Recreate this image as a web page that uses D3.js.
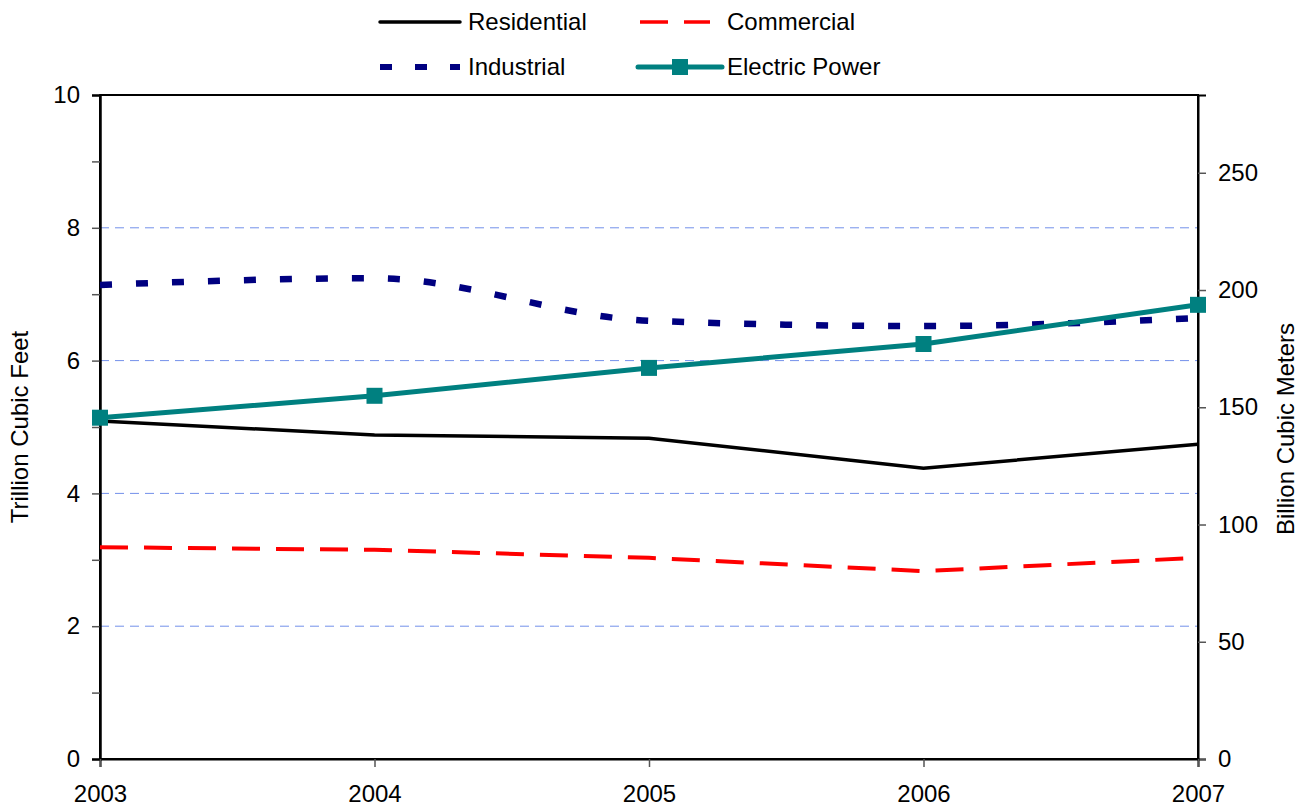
<!DOCTYPE html>
<html>
<head>
<meta charset="utf-8">
<script src="https://cdnjs.cloudflare.com/ajax/libs/d3/7.8.5/d3.min.js"></script>
<style>
  body { margin: 0; background: #fff; }
  text { font-family: "Liberation Sans", Arial, sans-serif; }
</style>
</head>
<body>
<script>
// values, trillion cubic feet
const years = [2003, 2004, 2005, 2006, 2007]
const residential = [5.09, 4.88, 4.83, 4.38, 4.74]
const commercial = [3.19, 3.15, 3.03, 2.83, 3.03]
const industrial = [7.14, 7.24, 6.60, 6.52, 6.64]
const electricPower = [5.14, 5.47, 5.89, 6.25, 6.84]
const leftTicks = [0, 2, 4, 6, 8, 10]
const leftMinor = [1, 3, 5, 7, 9]
const rightTicks = [0, 50, 100, 150, 200, 250]
const bcmPerTcf = 28.317

const width = 1304, height = 806
const m = { left: 100, right: 1198, top: 95, bottom: 759 }
const fontSize = "24px"

const svg = d3.select("body").append("svg")
    .attr("width", width)
    .attr("height", height)

const x = d3.scaleLinear().domain([2003, 2007]).range([m.left, m.right])
const y = d3.scaleLinear().domain([0, 10]).range([m.bottom, m.top])
const y2 = d3.scaleLinear().domain([0, 10 * bcmPerTcf]).range([m.bottom, m.top])

// gridlines
svg.append("g").selectAll("line")
    .data([2, 4, 6, 8])
    .join("line")
    .attr("x1", m.left).attr("x2", m.right)
    .attr("y1", d => y(d)).attr("y2", d => y(d))
    .attr("stroke", "#7390ea")
    .attr("stroke-width", 1)
    .attr("stroke-dasharray", "9,6")

// frame
svg.append("rect")
    .attr("x", m.left).attr("y", m.top)
    .attr("width", m.right - m.left).attr("height", m.bottom - m.top)
    .attr("fill", "none").attr("stroke", "#000").attr("stroke-width", 2)

const styleAxis = g => {
  g.select(".domain").attr("stroke", "#000").attr("stroke-width", 2)
  g.selectAll(".tick line").attr("stroke", "#555").attr("stroke-width", 1.5)
  g.selectAll("text").attr("font-size", fontSize).attr("fill", "#000")
}

// left axis
svg.append("g")
    .attr("transform", `translate(${m.left},0)`)
    .call(d3.axisLeft(y).tickValues(leftTicks).tickSize(8).tickPadding(12).tickFormat(d3.format("d")))
    .call(styleAxis)
svg.append("g")
    .attr("transform", `translate(${m.left},0)`)
    .call(d3.axisLeft(y).tickValues(leftMinor).tickSize(8).tickFormat(""))
    .call(styleAxis)

// right axis
svg.append("g")
    .attr("transform", `translate(${m.right},0)`)
    .call(d3.axisRight(y2).tickValues(rightTicks).tickSize(8).tickPadding(12).tickFormat(d3.format("d")))
    .call(styleAxis)

// bottom axis
svg.append("g")
    .attr("transform", `translate(0,${m.bottom})`)
    .call(d3.axisBottom(x).tickValues(years).tickSize(8).tickPadding(18).tickFormat(d3.format("d")))
    .call(styleAxis)

// axis titles
svg.append("text")
    .attr("transform", `translate(28,${(m.top + m.bottom) / 2}) rotate(-90)`)
    .attr("text-anchor", "middle")
    .attr("font-size", fontSize)
    .text("Trillion Cubic Feet")
svg.append("text")
    .attr("transform", `translate(1294,${(m.top + m.bottom) / 2 + 2}) rotate(-90)`)
    .attr("text-anchor", "middle")
    .attr("font-size", fontSize)
    .text("Billion Cubic Meters")

const series = [
  { name: "Residential", values: residential, color: "#000", width: 3.5, dash: null, curve: d3.curveLinear },
  { name: "Commercial", values: commercial, color: "#ff0000", width: 4, dash: "28,16", curve: d3.curveLinear },
  { name: "Industrial", values: industrial, color: "#000080", width: 6.5, dash: "12,24", curve: d3.curveMonotoneX },
  { name: "Electric Power", values: electricPower, color: "#008080", width: 5, dash: null, curve: d3.curveLinear, marker: true }
]

const line = d3.line()
    .x(d => x(d[0]))
    .y(d => y(d[1]))

// draw back to front
const order = [series[1], series[0], series[2], series[3]]
order.forEach(s => {
  svg.append("path")
      .datum(years.map((yr, i) => [yr, s.values[i]]))
      .attr("fill", "none")
      .attr("stroke", s.color)
      .attr("stroke-width", s.width)
      .attr("stroke-dasharray", s.dash)
      .attr("d", line.curve(s.curve))
  if (s.marker) {
    svg.append("g").selectAll("rect")
        .data(years.map((yr, i) => [yr, s.values[i]]))
        .join("rect")
        .attr("x", d => x(d[0]) - 8)
        .attr("y", d => y(d[1]) - 8)
        .attr("width", 16).attr("height", 16)
        .attr("fill", s.color)
  }
})

// legend
const legendPos = [
  { lx: 380, tx: 468, ly: 22 },
  { lx: 640, tx: 727, ly: 22 },
  { lx: 380, tx: 468, ly: 67 },
  { lx: 638, tx: 727, ly: 67 }
]
series.forEach((s, i) => {
  const p = legendPos[i]
  const g = svg.append("g")
  const len = i === 3 ? 84 : (i === 1 ? 70 : 80)
  const lineEl = g.append("line")
      .attr("x1", p.lx).attr("x2", p.lx + len)
      .attr("y1", p.ly).attr("y2", p.ly)
      .attr("stroke", s.color)
      .attr("stroke-width", i === 2 ? 6 : (i === 3 ? 5 : 3.5))
      .attr("stroke-linecap", i === 0 || i === 3 ? "round" : "butt")
  if (i === 1) lineEl.attr("stroke-dasharray", "28,16")
  if (i === 2) lineEl.attr("stroke-dasharray", "12,23")
  if (s.marker) {
    g.append("rect")
        .attr("x", p.lx + len / 2 - 8).attr("y", p.ly - 8)
        .attr("width", 16).attr("height", 16)
        .attr("fill", s.color)
  }
  g.append("text")
      .attr("x", p.tx).attr("y", p.ly + 8)
      .attr("font-size", fontSize)
      .text(s.name)
})
</script>
</body>
</html>
